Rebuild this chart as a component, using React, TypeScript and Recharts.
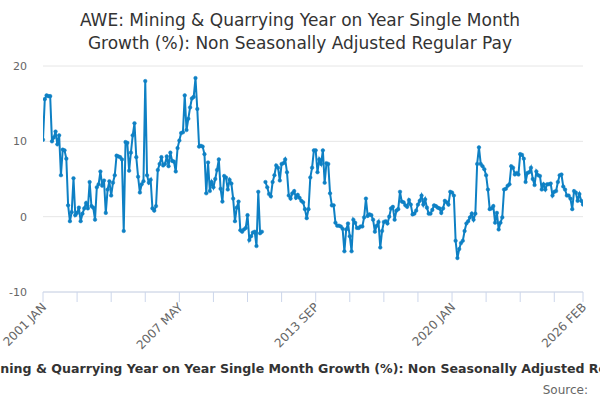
import React from 'react';
import { LineChart, Line, XAxis, YAxis, CartesianGrid } from 'recharts';

const titleLines = [
  'AWE: Mining & Quarrying Year on Year Single Month',
  'Growth (%): Non Seasonally Adjusted Regular Pay',
];
const seriesName =
  'AWE: Mining & Quarrying Year on Year Single Month Growth (%): Non Seasonally Adjusted Regular Pay';

const monthNames = ['JAN', 'FEB', 'MAR', 'APR', 'MAY', 'JUN', 'JUL', 'AUG', 'SEP', 'OCT', 'NOV', 'DEC'];
const startYear = 2001;

// one row per year, Jan..Dec (2001 JAN .. 2026 FEB)
const growth: (number | null)[] = [
  10.2, 15.6, 16.1, 16.0, 16.0, 10.0, 10.5, 11.3, 9.6, 10.8, 5.5, 8.9,
  8.8, 7.7, 1.5, -0.6, 0.6, 5.1, 0.2, 0.5, 1.2, -0.6, 0.4, 1.1,
  1.8, 1.1, 4.6, 1.4, 1.2, -0.4, 3.9, 4.3, 6.0, 4.1, 4.8, 0.5,
  3.6, 4.7, 2.8, 4.5, 5.5, 8.1, 8.0, 7.9, 7.6, -1.9, 9.9, 9.8,
  6.1, 8.5, 10.8, 12.4, 7.9, 5.3, 3.2, 4.3, 4.7, 18.0, 5.5, 4.5,
  4.9, 1.1, 0.8, 1.4, 6.2, 7.0, 7.9, 6.8, 7.0, 8.0, 6.7, 8.5,
  7.4, 7.3, 6.0, 9.1, 10.1, 11.1, 11.2, 16.1, 11.5, 13.0, 14.5, 15.7,
  15.9, 18.4, 14.3, 9.3, 9.4, 9.3, 8.3, 3.1, 7.2, 3.4, 4.6, 3.9,
  5.0, 6.2, 7.6, 3.7, 2.0, 5.4, 5.2, 3.6, 4.9, 4.4, 2.4, -0.6,
  1.2, 2.0, -1.8, -2.0, -1.7, -1.5, 0.2, -3.1, -2.6, -2.1, -2.0, -3.9,
  3.3, -2.2, -2.0, null, 4.6, 3.9, 3.0, 2.7, 4.6, 5.5, 6.8, 6.5,
  4.8, 7.0, 7.1, 7.6, 5.9, 2.8, 2.4, 3.1, 3.4, 2.5, 2.9, 2.5,
  2.1, 1.9, 1.0, -0.2, 1.0, 5.2, 6.5, 8.8, 8.8, 5.9, 7.6, 7.0,
  8.8, 4.5, 7.1, 7.0, 3.1, 1.5, 1.5, -0.8, -1.2, -1.2, -1.3, -1.6,
  -4.6, -1.7, -0.9, -2.6, -4.6, -0.4, -0.8, -1.5, -1.5, -1.3, -1.3, -0.1,
  2.4, 0.1, 0.3, 0.2, -0.4, -2.0, -1.2, -0.7, -4.1, -1.9, -0.7, -0.6,
  -0.9, 0.0, 1.1, 1.3, -0.4, 0.8, 1.0, 3.3, 2.0, 1.9, 1.5, 1.3,
  2.2, 1.6, 0.3, 0.4, 0.8, 1.6, 2.1, 2.8, 1.6, 2.3, 1.2, 0.4,
  0.4, 0.9, 1.5, 1.4, 1.2, 1.1, 0.5, 1.1, 2.1, 1.9, 1.6, 3.3,
  3.2, 2.8, -3.2, -5.5, -4.3, -3.5, -3.2, -1.9, -0.9, -0.6, -0.1, 0.4,
  -0.4, 0.4, 7.0, 9.2, 7.0, 6.7, 6.3, 5.5, 3.6, 1.0, 1.1, 1.4,
  -0.8, 0.5, -1.7, -0.8, -0.1, 3.6, 3.7, 4.1, 4.3, 6.7, 6.5, 5.6,
  5.8, 5.6, 8.3, 8.2, 7.7, 4.6, 5.8, 5.9, 6.5, 5.0, 4.2, 6.0,
  5.5, 5.4, 3.6, 4.3, 3.6, 4.3, 4.3, 4.4, 2.8, 3.3, 3.4, 4.6,
  5.5, 5.6, 4.0, 3.6, 2.8, 2.8, 2.4, 1.0, 3.4, 3.2, 2.1, 3.0,
  2.1, 1.6,
];

const yTicks = [-10, 0, 10, 20];
const xTicks = [0, 19, 38, 57, 76, 95, 114, 133, 152, 171, 190, 209, 228, 247, 266, 285, 301];
const labelledTicks = [0, 76, 152, 228, 301];

const monthLabel = (i: number) => `${startYear + Math.floor(i / 12)} ${monthNames[i % 12]}`;

const data = growth.map((v, i) => ({ idx: i, label: monthLabel(i), value: v }));

const LINE = '#0e80c4';
const FONT = "'DejaVu Sans', sans-serif";

const XTick = (props: any) => {
  const { x, y, payload } = props;
  if (!labelledTicks.includes(payload.value)) return null;
  return (
    <text
      x={x + 4}
      y={y + 4}
      textAnchor="end"
      fontSize={12}
      fill="#666"
      fontFamily={FONT}
      transform={`rotate(-45 ${x + 4} ${y + 4})`}
    >
      {monthLabel(payload.value)}
    </text>
  );
};

export default function App() {
  return (
    <div
      style={{
        position: 'absolute',
        left: 0,
        top: 0,
        width: 600,
        height: 400,
        background: '#fff',
        fontFamily: FONT,
        overflow: 'hidden',
      }}
    >
      <div style={{ position: 'absolute', top: 9, left: 0, width: 600, textAlign: 'center', color: '#333', fontSize: 17, lineHeight: '23px' }}>
        {titleLines.map((t) => (
          <div key={t}>{t}</div>
        ))}
      </div>

      <div style={{ position: 'absolute', top: 0, left: 0 }}>
        <LineChart width={600} height={400} data={data} margin={{ top: 66, right: 17, bottom: 58, left: 0 }}>
          <CartesianGrid horizontal vertical={false} stroke="#e6e6e6" />
          <XAxis
            type="number"
            dataKey="idx"
            domain={[0, 301]}
            ticks={xTicks}
            interval={0}
            height={50}
            axisLine={{ stroke: '#ccd6eb' }}
            tickLine={{ stroke: '#ccd6eb' }}
            tickSize={10}
            tick={<XTick />}
            allowDataOverflow
          />
          <YAxis
            type="number"
            domain={[-10, 20]}
            ticks={yTicks}
            width={43}
            axisLine={false}
            tickLine={false}
            tickMargin={10}
            tick={{ fontSize: 11, fill: '#666', fontFamily: FONT }}
          />
          <Line
            type="linear"
            dataKey="value"
            stroke={LINE}
            strokeWidth={2}
            dot={{ r: 1.8, fill: LINE, stroke: LINE, strokeWidth: 0.5 }}
            activeDot={false}
            isAnimationActive={false}
            connectNulls={false}
          />
        </LineChart>
      </div>

      <div
        style={{
          position: 'absolute',
          top: 361,
          left: 0,
          width: 600,
          display: 'flex',
          justifyContent: 'center',
          overflow: 'hidden',
          whiteSpace: 'nowrap',
        }}
      >
        <span style={{ fontSize: 12.6, fontWeight: 'bold', color: '#333', marginLeft: 16 }}>{seriesName}</span>
      </div>
      <div style={{ position: 'absolute', top: 383, right: 12, fontSize: 12, color: '#666' }}>Source:</div>
    </div>
  );
}
